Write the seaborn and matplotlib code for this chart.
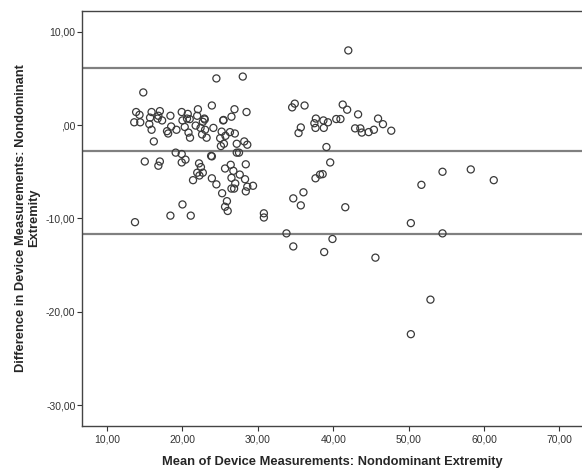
import numpy as np
import pandas as pd
import matplotlib
matplotlib.use("Agg")
import matplotlib.pyplot as plt
import seaborn as sns

# Bland-Altman: mean vs difference of device measurements (nondominant extremity)
mean_vals = [42.0, 24.5, 28.0, 14.8, 23.9, 13.85, 14.3, 13.6, 14.4, 15.9,
             15.7, 15.6, 15.9, 16.2, 16.7, 17.0, 16.8, 17.3, 18.4, 18.5,
             17.95, 18.1, 19.2, 19.9, 20.0, 20.3, 20.7, 20.6, 20.96, 20.8,
             21.0, 22.05, 21.95, 21.75, 22.4, 22.9, 22.95, 22.7, 22.6, 23.2,
             24.1, 23.0, 25.4, 25.45, 25.2, 25.0, 25.1, 25.5, 25.7, 26.5,
             26.9, 26.3, 26.95, 28.5, 27.2, 28.2, 28.6, 27.2, 27.5, 23.8,
             23.9, 19.1, 19.9, 20.4, 19.9, 15.0, 17.0, 16.8, 22.2, 22.45,
             21.96, 22.25, 22.7, 21.4, 23.9, 24.5, 25.65, 26.4, 26.75, 26.5,
             27.6, 28.4, 28.3, 27.0, 26.85, 26.5, 28.6, 29.36, 28.4, 25.26,
             25.9, 25.65, 26.0, 20.0, 18.4, 21.1, 13.7, 30.8, 30.8, 33.8,
             34.7, 34.7, 35.7, 36.05, 37.65, 38.25, 38.6, 39.6, 39.9, 38.8,
             39.1, 41.6, 45.6, 50.3, 50.3, 52.9, 51.7, 54.5, 54.5, 58.25,
             61.3, 34.55, 34.9, 36.2, 35.7, 35.4, 37.7, 37.5, 37.65, 38.7,
             38.75, 39.3, 40.4, 40.96, 41.26, 41.85, 43.3, 42.9, 43.6, 43.8,
             44.7, 45.4, 45.95, 46.6, 47.7]
diff_vals = [8.0, 5.0, 5.2, 3.5, 2.1, 1.4, 1.1, 0.3, 0.3, 1.4,
             0.8, 0.1, -0.5, -1.75, 0.7, 1.5, 1.0, 0.5, 1.0, -0.15,
             -0.65, -0.9, -0.5, 1.4, 0.5, -0.2, 1.2, 0.7, 0.64, -0.8,
             -1.35, 1.7, 1.0, -0.05, -0.3, 0.7, 0.6, 0.35, -1.0, -1.35,
             -0.3, -0.5, 0.5, 0.55, -0.7, -1.4, -2.25, -2.0, -1.15, 0.9,
             1.7, -0.75, -0.9, 1.4, -2.0, -1.75, -2.1, -2.95, -2.95, -3.3,
             -3.35, -2.95, -3.1, -3.7, -4.0, -3.9, -3.9, -4.35, -4.1, -4.5,
             -5.1, -5.4, -5.1, -5.9, -5.7, -6.35, -4.65, -4.25, -4.9, -5.65,
             -5.3, -4.2, -5.8, -6.25, -6.8, -6.8, -6.6, -6.5, -7.1, -7.3,
             -8.15, -8.75, -9.2, -8.5, -9.7, -9.7, -10.4, -9.45, -9.9, -11.6,
             -13.0, -7.85, -8.6, -7.2, -5.7, -5.3, -5.25, -4.0, -12.2, -13.6,
             -2.35, -8.8, -14.2, -10.5, -22.4, -18.7, -6.4, -5.0, -11.6, -4.75,
             -5.9, 1.9, 2.3, 2.1, -0.25, -0.85, 0.7, 0.2, -0.3, 0.5,
             -0.3, 0.3, 0.65, 0.65, 2.2, 1.65, 1.15, -0.35, -0.35, -0.8,
             -0.75, -0.5, 0.7, 0.1, -0.6]
ref_lines = [6.14, -2.79, -11.71]  # upper LoA, mean diff, lower LoA

x_ticks = [10, 20, 30, 40, 50, 60, 70]
x_labels = ["10,00", "20,00", "30,00", "40,00", "50,00", "60,00", "70,00"]
y_ticks = [10, 0, -10, -20, -30]
y_labels = ["10,00", ",00", "-10,00", "-20,00", "-30,00"]

df = pd.DataFrame({"mean": mean_vals, "diff": diff_vals})

sns.set_style("ticks")
plt.rcParams["font.family"] = ["Liberation Sans", "DejaVu Sans"]

fig = plt.figure(figsize=(5.82, 4.68), dpi=100)
ax = fig.add_axes([0.1405, 0.0905, 0.862, 0.8865])

for y in ref_lines:
    ax.axhline(y, color="#808080", lw=1.6, zorder=1)

sns.scatterplot(data=df, x="mean", y="diff", ax=ax, marker="o",
                s=26, facecolor="none", edgecolor="#3a3a3a", linewidth=0.9,
                zorder=2)

ax.set_xlim(6.64, 73.2)
ax.set_ylim(-32.2, 12.25)
ax.set_xticks(x_ticks)
ax.set_xticklabels(x_labels)
ax.set_yticks(y_ticks)
ax.set_yticklabels(y_labels)
ax.tick_params(axis="both", labelsize=7.5, colors="#333333", length=3.5,
               width=0.8, direction="out")
ax.tick_params(axis="x", pad=3)
ax.tick_params(axis="y", pad=1)

for side in ["left", "top", "bottom"]:
    ax.spines[side].set_color("#444444")
    ax.spines[side].set_linewidth(1.0)
ax.spines["right"].set_visible(False)

ax.set_xlabel("Mean of Device Measurements: Nondominant Extremity",
              fontsize=9.3, fontweight="bold", labelpad=8)
ax.set_ylabel("Difference in Device Measurements: Nondominant\nExtremity",
              fontsize=9.3, fontweight="bold", labelpad=4)

fig.savefig("out.png", dpi=100)
